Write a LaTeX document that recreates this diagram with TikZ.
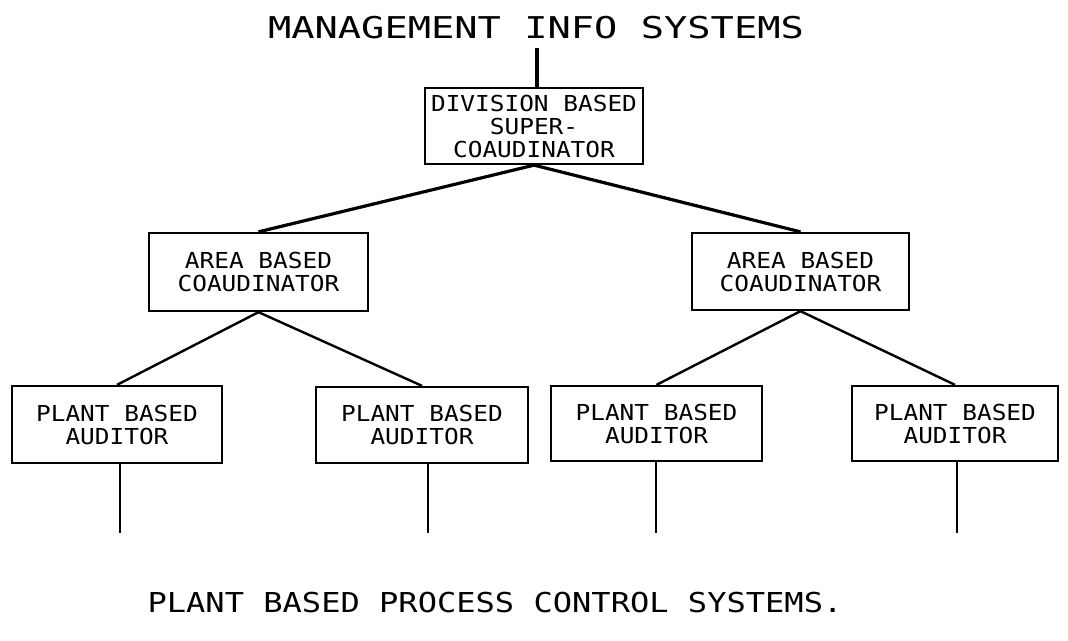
\documentclass[tikz,border=0pt]{standalone}
\usepackage{fontspec}
\newfontfamily\titlefnt[FakeStretch=1.29]{DejaVu Sans Mono}
\newfontfamily\bottomfnt[FakeStretch=1.17]{DejaVu Sans Mono}
\newfontfamily\boxfnt[FakeStretch=1.11]{DejaVu Sans Mono}
\begin{document}
\begin{tikzpicture}[x=1pt,y=-1pt,
  unit/.style={draw,line width=2.3pt,inner sep=0pt,align=center,
    font=\boxfnt\fontsize{22}{23}\selectfont},
  conn/.style={line width=3.2pt},
  thinconn/.style={line width=2.4pt},
  big/.style={inner sep=0pt}]
\useasboundingbox (0,0) rectangle (1068,640);
\node[big,font=\titlefnt\fontsize{30}{32}\selectfont] (title) at (536,28) {MANAGEMENT INFO SYSTEMS};
\node[unit,minimum width=218pt,minimum height=76pt] (div) at (534,126) {DIVISION BASED\\SUPER-\\COAUDINATOR};
\node[unit,minimum width=219pt,minimum height=78pt] (areaL) at (258.5,272) {AREA BASED\\COAUDINATOR};
\node[unit,minimum width=217pt,minimum height=77pt] (areaR) at (800.5,271.5) {AREA BASED\\COAUDINATOR};
\node[unit,minimum width=210pt,minimum height=77pt] (p1) at (117,424.5) {PLANT BASED\\AUDITOR};
\node[unit,minimum width=212pt,minimum height=76pt] (p2) at (422,425) {PLANT BASED\\AUDITOR};
\node[unit,minimum width=211pt,minimum height=75pt] (p3) at (656.5,423.5) {PLANT BASED\\AUDITOR};
\node[unit,minimum width=206pt,minimum height=75pt] (p4) at (955,423.5) {PLANT BASED\\AUDITOR};
\node[big,font=\bottomfnt\fontsize{27.4}{30}\selectfont] (bottom) at (495,603) {PLANT BASED PROCESS CONTROL SYSTEMS.};
\coordinate (e1) at (120,533);
\coordinate (e2) at (428,533);
\coordinate (e3) at (656,533);
\coordinate (e4) at (957,533);
\coordinate (t0) at (537,48);
\draw[conn] (t0) -- (div.north -| t0);
\draw[conn] (div.south) -- (areaL.north);
\draw[conn] (div.south) -- (areaR.north);
\draw[thinconn] (areaL.south) -- (p1.north);
\draw[thinconn] (areaL.south) -- (p2.north);
\draw[thinconn] (areaR.south) -- (p3.north);
\draw[thinconn] (areaR.south) -- (p4.north);
\draw[thinconn] (p1.south -| e1) -- (e1);
\draw[thinconn] (p2.south -| e2) -- (e2);
\draw[thinconn] (p3.south -| e3) -- (e3);
\draw[thinconn] (p4.south -| e4) -- (e4);
\end{tikzpicture}
\end{document}
